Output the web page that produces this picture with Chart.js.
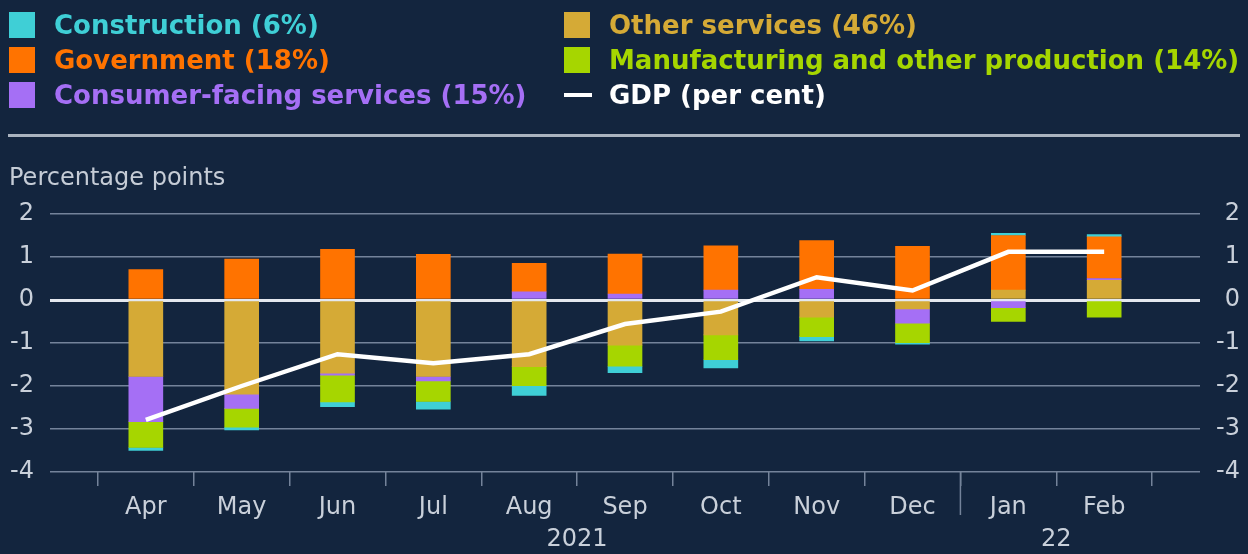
<!DOCTYPE html>
<html>
<head>
<meta charset="utf-8">
<script src="https://cdn.jsdelivr.net/npm/chart.js@4.4.1/dist/chart.umd.min.js"></script>
<style>
  html, body { margin: 0; padding: 0; background: #13253e; }
  body { width: 1248px; height: 554px; position: relative; overflow: hidden; font-family: "DejaVu Sans", sans-serif; }
  #chart { position: absolute; left: 0; top: 0; }
  .key { position: absolute; height: 26px; line-height: 26px; font-size: 26px; font-weight: bold; white-space: nowrap; }
  .key .sw { position: absolute; left: 0; top: 0; width: 26px; height: 26px; }
  .key .ln { position: absolute; left: 0; top: 11px; width: 28px; height: 4px; background: #ffffff; }
  .key span.t { position: absolute; left: 45px; top: 0; }
  #rule { position: absolute; left: 8px; top: 134px; width: 1232px; height: 3px; background: #aab3bf; }
  #unit { position: absolute; left: 9px; top: 165px; font-size: 24px; line-height: 24px; color: #c5ccd6; }
</style>
</head>
<body>
<canvas id="chart" width="1248" height="554"></canvas>
<div id="legend"></div>
<div id="rule"></div>
<div id="unit">Percentage points</div>
<script>
const months = ['Apr', 'May', 'Jun', 'Jul', 'Aug', 'Sep', 'Oct', 'Nov', 'Dec', 'Jan', 'Feb'];

const otherServices = [-1.78, -2.19, -1.70, -1.78, -1.55, -1.05, -0.81, -0.40, -0.21, 0.23, 0.46];
const consumerFacing = [-1.05, -0.33, -0.05, -0.10, 0.19, 0.14, 0.23, 0.25, -0.33, -0.18, 0.04];
const government = [0.71, 0.95, 1.18, 1.06, 0.66, 0.93, 1.03, 1.13, 1.25, 1.27, 0.97];
const manufacturing = [-0.60, -0.44, -0.62, -0.48, -0.44, -0.49, -0.58, -0.45, -0.45, -0.32, -0.40];
const construction = [-0.07, -0.06, -0.11, -0.18, -0.23, -0.15, -0.19, -0.10, -0.04, 0.05, 0.05];
const gdp = [-2.79, -2.00, -1.26, -1.47, -1.26, -0.56, -0.27, 0.53, 0.22, 1.12, 1.12];

const yTicks = [2, 1, 0, -1, -2, -3, -4];
const years = ['2021', '22'];
const yearBetween = [['Aug', 'Sep'], ['Jan', 'Feb']];
const yearSplit = ['Dec', 'Jan'];

// legend, two columns like the original
const legendItems = [
    { text: 'Construction (6%)', color: '#3fcfd6', col: 0, row: 0 },
    { text: 'Government (18%)', color: '#ff7300', col: 0, row: 1 },
    { text: 'Consumer-facing services (15%)', color: '#a56ff5', col: 0, row: 2 },
    { text: 'Other services (46%)', color: '#d5aa36', col: 1, row: 0 },
    { text: 'Manufacturing and other production (14%)', color: '#a6d600', col: 1, row: 1 },
    { text: 'GDP (per cent)', color: '#ffffff', col: 1, row: 2, line: true }
];
const legendEl = document.getElementById('legend');
legendItems.forEach(item => {
    const div = document.createElement('div');
    div.className = 'key';
    div.style.left = (item.col === 0 ? 9 : 564) + 'px';
    div.style.top = (12 + item.row * 35) + 'px';
    const mark = document.createElement('div');
    if (item.line) {
        mark.className = 'ln';
    } else {
        mark.className = 'sw';
        mark.style.background = item.color;
    }
    const label = document.createElement('span');
    label.className = 't';
    label.textContent = item.text;
    label.style.color = item.color;
    div.appendChild(mark);
    div.appendChild(label);
    legendEl.appendChild(div);
});

// empty slot each side gives the half-month margin of the original axis
const labels = [''].concat(months, ['']);
const pad = arr => [null].concat(arr, [null]);

const gridColor = '#74839a';
const tickColor = '#c9d0da';
const tickFont = { family: 'DejaVu Sans', size: 24 };

const yearMarks = {
    id: 'yearMarks',
    afterDraw(chart) {
        const ctx = chart.ctx;
        const x = chart.scales.x;
        const bottom = chart.chartArea.bottom;
        ctx.save();
        const split = (x.getPixelForValue(labels.indexOf(yearSplit[0])) + x.getPixelForValue(labels.indexOf(yearSplit[1]))) / 2;
        ctx.strokeStyle = gridColor;
        ctx.lineWidth = 1.5;
        ctx.beginPath();
        ctx.moveTo(split, bottom);
        ctx.lineTo(split, bottom + 43);
        ctx.stroke();
        ctx.fillStyle = tickColor;
        ctx.font = '24px "DejaVu Sans"';
        ctx.textAlign = 'center';
        ctx.textBaseline = 'middle';
        years.forEach((year, i) => {
            const a = x.getPixelForValue(labels.indexOf(yearBetween[i][0]));
            const b = x.getPixelForValue(labels.indexOf(yearBetween[i][1]));
            ctx.fillText(year, (a + b) / 2, bottom + 68);
        });
        ctx.restore();
    }
};

const barSet = (label, data, color) => ({
    type: 'bar',
    label: label,
    data: pad(data),
    backgroundColor: color,
    borderWidth: 0,
    barThickness: 34,
    stack: 'parts',
    order: 1
});

new Chart(document.getElementById('chart'), {
    data: {
        labels: labels,
        datasets: [
            {
                type: 'line',
                label: 'GDP (per cent)',
                data: pad(gdp),
                borderColor: '#ffffff',
                borderWidth: 4.5,
                pointRadius: 0,
                tension: 0,
                stack: 'gdp',
                order: 0
            },
            barSet('Other services (46%)', otherServices, '#d5aa36'),
            barSet('Consumer-facing services (15%)', consumerFacing, '#a56ff5'),
            barSet('Government (18%)', government, '#ff7300'),
            barSet('Manufacturing and other production (14%)', manufacturing, '#a6d600'),
            barSet('Construction (6%)', construction, '#3fcfd6')
        ]
    },
    options: {
        responsive: false,
        animation: false,
        layout: { padding: { top: 214, left: 0, right: 8, bottom: 0 } },
        plugins: {
            legend: { display: false },
            tooltip: { enabled: false }
        },
        scales: {
            x: {
                stacked: true,
                offset: false,
                grid: {
                    offset: true,
                    drawOnChartArea: false,
                    drawTicks: true,
                    tickLength: 14,
                    color: gridColor,
                    lineWidth: 1.5
                },
                border: { display: false },
                ticks: { color: tickColor, font: tickFont, padding: 7, maxRotation: 0, autoSkip: false },
                afterFit: scale => { scale.height = 82; }
            },
            y: {
                stacked: true,
                position: 'left',
                min: -4,
                max: 2,
                afterBuildTicks: scale => { scale.ticks = yTicks.map(v => ({ value: v })); },
                grid: {
                    drawTicks: false,
                    color: ctx => ctx.tick && ctx.tick.value === 0 ? '#e4e8ee' : gridColor,
                    lineWidth: ctx => ctx.tick && ctx.tick.value === 0 ? 3 : 1.5
                },
                border: { display: false },
                ticks: { color: tickColor, font: tickFont, padding: 16 },
                afterFit: scale => { scale.width = 50; }
            },
            y2: {
                position: 'right',
                min: -4,
                max: 2,
                afterBuildTicks: scale => { scale.ticks = yTicks.map(v => ({ value: v })); },
                grid: { display: false, drawTicks: false },
                border: { display: false },
                ticks: { color: tickColor, font: tickFont, padding: 16, crossAlign: 'far' },
                afterFit: scale => { scale.width = 40; }
            }
        }
    },
    plugins: [yearMarks]
});
</script>
</body>
</html>
